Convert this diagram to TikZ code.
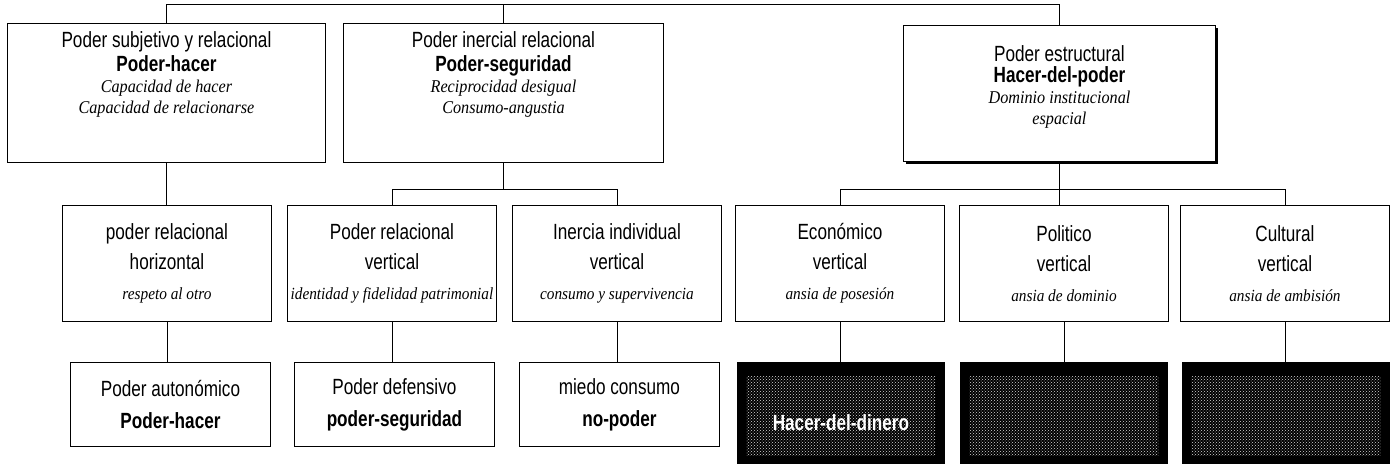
\documentclass[tikz,border=0pt]{standalone}
\usepackage{fontspec}
\setmainfont{Liberation Sans}[FakeStretch=0.78]
\newfontfamily\serifit{Liberation Serif}[FakeStretch=0.9]
\usetikzlibrary{patterns,shadows}
\newcommand\ItLine[1]{{\serifit\itshape\fontsize{18}{20}\selectfont #1}}
\newcommand\ItSmall[1]{{\serifit\itshape\fontsize{17}{20}\selectfont #1}}

\begin{document}
\begin{tikzpicture}[x=1pt,y=-1pt,line width=0.9pt,
  box/.style={rectangle,draw,inner sep=0pt,anchor=north west,align=center},
  topbox/.style={box,minimum width=#1,minimum height=139pt,font=\fontsize{22}{21}\selectfont},
  midbox/.style={box,minimum width=209pt,minimum height=116pt,font=\fontsize{22}{30}\selectfont},
  lowbox/.style={box,minimum width=200pt,minimum height=84pt,font=\fontsize{22}{32}\selectfont},
  darkbox/.style={box,fill=black,minimum width=207pt,minimum height=101pt,text=white,
    font=\fontsize{22}{24}\selectfont\bfseries,
    path picture={\fill[pattern=crosshatch dots,pattern color=white!85!black]
      ([xshift=9pt,yshift=-14pt]path picture bounding box.north west) rectangle
      ([xshift=-9pt,yshift=8pt]path picture bounding box.south east);}},
  conn/.style={line width=0.8pt}]
\useasboundingbox (0,0) rectangle (1391,468);
\coordinate (top) at (0,4);
\coordinate (barL) at (0,189);

% first level
\node[topbox=318pt] (subj) at (7,23) {Poder subjetivo y relacional\\[3pt] \textbf{Poder-hacer}\\ \ItLine{Capacidad de hacer}\\ \ItLine{Capacidad de relacionarse}\\[19pt]{}};
\node[topbox=320pt] (inerc) at (343,23) {Poder inercial relacional\\[3pt] \textbf{Poder-seguridad}\\ \ItLine{Reciprocidad desigual}\\ \ItLine{Consumo-angustia}\\[19pt]{}};
\node[topbox=312pt,minimum height=136pt,drop shadow={shadow xshift=3pt,shadow yshift=-3pt,fill=black,opacity=1},fill=white] (estr) at (903,25) {Poder estructural\\ \textbf{Hacer-del-poder}\\ \ItLine{Dominio institucional}\\ \ItLine{espacial}\\[-5pt]{}};

% second level
\node[midbox] (horiz) at (62,205) {poder relacional\\ horizontal\\ \ItSmall{respeto al otro}};
\node[midbox] (relv) at (287,205) {Poder relacional\\ vertical\\ \ItSmall{identidad y fidelidad patrimonial}};
\node[midbox] (inerv) at (512,205) {Inercia individual\\ vertical\\ \ItSmall{consumo y supervivencia}};
\node[midbox] (econ) at (735,205) {Económico\\ vertical\\ \ItSmall{ansia de posesión}};
\node[midbox] (polit) at (959,205) {Politico\\ vertical\\ \ItSmall{ansia de dominio}};
\node[midbox] (cult) at (1180,205) {Cultural\\ vertical\\ \ItSmall{ansia de ambisión}};

% third level
\node[lowbox] (auton) at (70,362) {Poder autonómico\\ \textbf{Poder-hacer}};
\node[lowbox] (defens) at (294,362) {Poder defensivo\\ \textbf{poder-seguridad}};
\node[lowbox] (miedo) at (519,362) {miedo consumo\\ \textbf{no-poder}};
\node[darkbox] (hdin) at (737,362) {{}\\[12pt]Hacer-del-dinero};
\node[darkbox] (hpol) at (960,362) {};
\node[darkbox] (hcul) at (1182,362) {};

% connectors
\draw[conn] (subj.north) -- (subj.north |- top) -- (estr.north |- top) -- (estr.north);
\draw[conn] (inerc.north) -- (inerc.north |- top);
\draw[conn] (subj.south) -- (subj.south |- horiz.north);
\draw[conn] (inerc.south) -- (inerc.south |- barL);
\draw[conn] (relv.north) -- (relv.north |- barL) -- (inerv.north |- barL) -- (inerv.north);
\draw[conn] (estr.south) -- (estr.south |- barL);
\draw[conn] (econ.north) -- (econ.north |- barL) -- (cult.north |- barL) -- (cult.north);
\draw[conn] (estr.south |- barL) -- (estr.south |- polit.north);
\foreach \a/\b in {horiz/auton,relv/defens,inerv/miedo,econ/hdin,polit/hpol,cult/hcul}
  \draw[conn] (\a.south) -- (\a.south |- \b.north);
\end{tikzpicture}
\end{document}
